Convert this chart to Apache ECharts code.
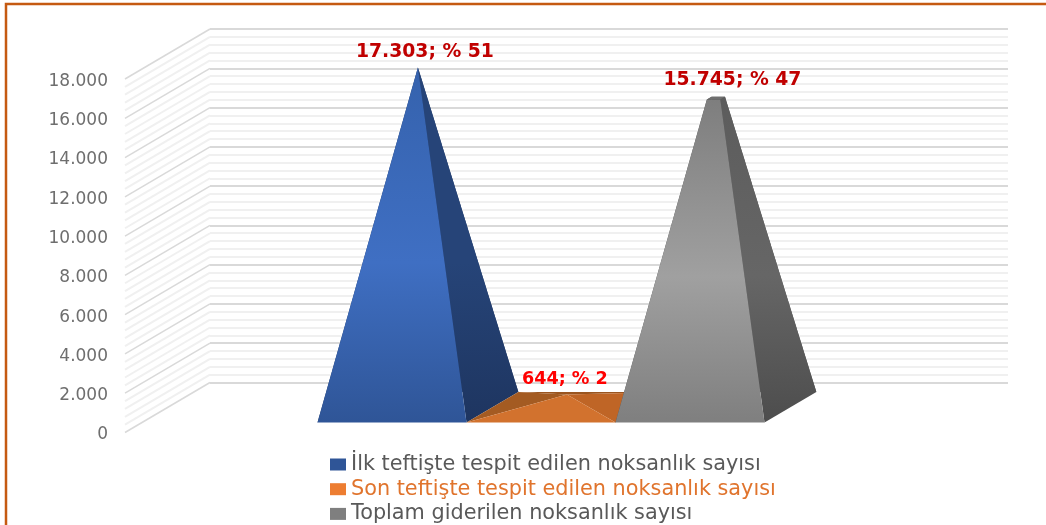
<!DOCTYPE html>
<html>
<head>
<meta charset="utf-8">
<style>html,body{margin:0;padding:0;background:#fff}#main{width:1046px;height:525px}</style>
<script src="https://cdn.jsdelivr.net/npm/echarts@6/dist/echarts.min.js"></script>
</head>
<body>
<div id="main"></div>
<script>
const seriesNames = ['İlk teftişte tespit edilen noksanlık sayısı', 'Son teftişte tespit edilen noksanlık sayısı', 'Toplam giderilen noksanlık sayısı'];
const seriesValues = [17303, 644, 15745];
const seriesPercents = [51, 2, 47];
const categories = [''];
const yTicks = [0, 2000, 4000, 6000, 8000, 10000, 12000, 14000, 16000, 18000];

// oblique projection of the excel 3d chart: the wall sits 85px right and 50px up of the axis plane
const WALL_DX = 85, WALL_DY = -50;
const DEPTH_FRONT = 0.2, DEPTH_BACK = 0.81;
const BAR_RATIO = 149 / 798;
const FONT = 'DejaVu Sans';

function grad(c0, c1, c2) {
	return new echarts.graphic.LinearGradient(0, 0, 0, 1, [
		{offset: 0, color: c0}, {offset: 0.55, color: c1}, {offset: 1, color: c2}
	]);
}

const looks = [
	{
		front: grad('#3562ad', '#3f6fc3', '#2f5597'), right: grad('#264478', '#264478', '#1e3560'),
		left: '#1e3560', back: '#1e3560', cap: '#264478', legend: '#2f5597',
		label: '#c00000', labelSize: 18.8, labelDx: 7, labelDy: -15, text: '#595959'
	},
	{
		front: '#d2722e', right: '#bf6526', left: '#a45b22', back: '#9a5520', cap: '#bf6526', legend: '#ed7d31',
		label: '#ff0000', labelSize: 17.6, labelDx: -2, labelDy: -15.5, text: '#e0742d'
	},
	{
		front: grad('#7e7e7e', '#a0a0a0', '#7f7f7f'), right: grad('#5c5c5c', '#666666', '#4d4d4d'),
		left: '#4d4d4d', back: '#4d4d4d', cap: '#6f6f6f', legend: '#7f7f7f',
		label: '#c00000', labelSize: 18.8, labelDx: 16.5, labelDy: -18, text: '#595959'
	}
];

function fmt(v) {
	return String(v).replace(/\B(?=(\d{3})+$)/g, '.');
}

function poly(points, fill) {
	return {type: 'polygon', shape: {points: points}, style: {fill: fill}};
}

// apexValue is where the sides meet, the gray one is cut off below it like in the source
function pyramidSeries(idx, apexValue) {
	return {
		type: 'custom',
		name: seriesNames[idx],
		xAxisIndex: 0,
		yAxisIndex: 0,
		coordinateSystem: 'cartesian2d',
		itemStyle: {color: looks[idx].legend},
		data: [[0, seriesValues[idx]]],
		renderItem: function(params, api) {
			var look = looks[idx];
			var center = api.coord([0, 0]);
			var barW = api.size([1, 0])[0] * BAR_RATIO;
			var x0 = center[0] + (idx - 1.5) * barW;
			var x1 = x0 + barW;
			var yZero = center[1];
			var project = function(x, y, depth) {
				return [x + WALL_DX * depth, y + WALL_DY * depth];
			};
			var fl = project(x0, yZero, DEPTH_FRONT);
			var fr = project(x1, yZero, DEPTH_FRONT);
			var br = project(x1, yZero, DEPTH_BACK);
			var bl = project(x0, yZero, DEPTH_BACK);
			var midDepth = (DEPTH_FRONT + DEPTH_BACK) / 2;
			var apex = project((x0 + x1) / 2, api.coord([0, apexValue])[1], midDepth);
			var keep = 1 - api.value(1) / apexValue;
			var top = function(p) {
				return [apex[0] + (p[0] - apex[0]) * keep, apex[1] + (p[1] - apex[1]) * keep];
			};
			var tfl = top(fl), tfr = top(fr), tbr = top(br), tbl = top(bl);
			var labelAt = project((x0 + x1) / 2, api.coord([0, api.value(1)])[1], midDepth);
			return {
				type: 'group',
				children: [
					poly([bl, br, tbr, tbl], look.back),
					poly([fl, bl, tbl, tfl], look.left),
					poly([fr, br, tbr, tfr], look.right),
					poly([fl, fr, tfr, tfl], look.front),
					poly([tfl, tfr, tbr, tbl], look.cap),
					{
						type: 'text',
						style: {
							text: fmt(seriesValues[idx]) + '; % ' + seriesPercents[idx],
							x: labelAt[0] + look.labelDx,
							y: labelAt[1] + look.labelDy,
							fill: look.label,
							fontFamily: FONT,
							fontWeight: 'bold',
							fontSize: look.labelSize,
							textAlign: 'center',
							textVerticalAlign: 'middle'
						}
					}
				]
			};
		}
	};
}

// slanted lines of the left wall, major ones from yTicks and 5 parts between them
const leftWall = {
	type: 'custom',
	xAxisIndex: 0,
	yAxisIndex: 0,
	silent: true,
	z: 1,
	data: [[0, 0]],
	renderItem: function(params, api) {
		var children = [];
		var left = api.coord([0, 0])[0] - api.size([1, 0])[0] / 2;
		for (var i = yTicks.length - 1; i >= 0; i--) {
			var steps = i === yTicks.length - 1 ? 1 : 5;
			for (var j = steps - 1; j >= 0; j--) {
				var v = yTicks[i] + j * (yTicks[1] - yTicks[0]) / 5;
				var y = api.coord([0, v])[1];
				children.push({
					type: 'line',
					shape: {x1: left, y1: y, x2: left + WALL_DX, y2: y + WALL_DY},
					style: {stroke: j === 0 ? '#d9d9d9' : '#f0f0f0', lineWidth: j === 0 ? 1.5 : 2}
				});
			}
		}
		return {type: 'group', children: children};
	}
};

const chart = echarts.init(document.getElementById('main'));
chart.setOption({
	backgroundColor: '#ffffff',
	animation: false,
	graphic: [{
		type: 'rect',
		silent: true,
		shape: {x: 6, y: 4, width: 1200, height: 700},
		style: {fill: 'none', stroke: '#c55a11', lineWidth: 2.5}
	}],
	legend: {
		orient: 'vertical',
		left: 330,
		top: 453.5,
		height: 90,
		padding: 0,
		itemWidth: 16,
		itemHeight: 12,
		itemGap: 2.7,
		selectedMode: false,
		textStyle: {fontFamily: FONT, fontSize: 20.8, lineHeight: 22, color: '#595959'},
		data: seriesNames.map(function(name, i) {
			return {name: name, icon: 'rect', itemStyle: {color: looks[i].legend}, textStyle: {color: looks[i].text}};
		})
	},
	grid: [
		{left: 125, right: 123, top: 79, height: 353.5},
		{left: 210, right: 38, top: 29, height: 353.5}
	],
	xAxis: [
		{type: 'category', data: categories, gridIndex: 0, axisLine: {show: false}, axisTick: {show: false}, axisLabel: {show: false}},
		{type: 'category', data: categories, gridIndex: 1, show: false}
	],
	yAxis: [
		{
			type: 'value',
			gridIndex: 0,
			min: 0,
			max: 18000,
			interval: 2000,
			axisLine: {show: false},
			axisTick: {show: false},
			splitLine: {show: false},
			axisLabel: {
				margin: 17,
				color: '#6e6e6e',
				fontFamily: FONT,
				fontSize: 17,
				formatter: function(v) { return '{v|' + fmt(v) + '}'; },
				rich: {v: {color: '#6e6e6e', fontFamily: FONT, fontSize: 17, padding: [5, 0, 0, 0]}}
			}
		},
		{
			type: 'value',
			gridIndex: 1,
			min: 0,
			max: 18000,
			interval: 2000,
			axisLine: {show: false},
			axisTick: {show: false},
			axisLabel: {show: false},
			minorTick: {show: false, splitNumber: 5},
			splitLine: {show: true, lineStyle: {color: '#d9d9d9', width: 2}},
			minorSplitLine: {show: true, lineStyle: {color: '#f0f0f0', width: 2}}
		}
	],
	series: [
		leftWall,
		pyramidSeries(0, seriesValues[0]),
		pyramidSeries(1, seriesValues[1]),
		pyramidSeries(2, seriesValues[0])
	]
});
</script>
</body>
</html>
